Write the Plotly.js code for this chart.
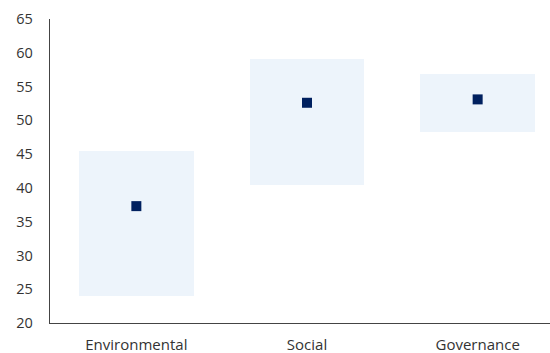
<!DOCTYPE html>
<html>
<head>
<meta charset="utf-8">
<script src="https://cdn.plot.ly/plotly-3.0.1.min.js"></script>
<style>html,body{margin:0;padding:0;background:#fff;}#chart{width:550px;height:353px;}</style>
</head>
<body>
<div id="chart"></div>
<script>
const categories = ["Environmental", "Social", "Governance"];
const rangeLow = [24.0, 40.4, 48.2];
const rangeHigh = [45.4, 59.1, 56.9];
const pointValues = [37.3, 52.6, 53.1];
const yTicks = [20, 25, 30, 35, 40, 45, 50, 55, 60, 65];

const xIdx = categories.map((c, i) => i);

const barTrace = {
  type: "bar",
  x: xIdx,
  base: rangeLow,
  y: rangeHigh.map((h, i) => h - rangeLow[i]),
  width: 0.67,
  marker: {color: "#EDF4FB", line: {width: 0}},
  hoverinfo: "skip",
  showlegend: false
};

const pointTrace = {
  type: "scatter",
  mode: "markers",
  x: xIdx,
  y: pointValues,
  marker: {symbol: "square", size: 10, color: "#00205F"},
  showlegend: false
};

const layout = {
  width: 550,
  height: 353,
  margin: {l: 50, r: 0, t: 19, b: 30, pad: 0},
  paper_bgcolor: "#fff",
  plot_bgcolor: "#fff",
  font: {family: "Open Sans, Noto Sans, sans-serif", size: 14.5, color: "#333"},
  xaxis: {
    range: [-0.506, 2.424],
    tickvals: xIdx,
    ticktext: categories,
    showgrid: false,
    zeroline: false,
    showline: true,
    linecolor: "#444",
    linewidth: 1.3,
    ticks: "",
    ticklabelstandoff: 8,
    tickfont: {size: 15, color: "#333"},
    fixedrange: true
  },
  yaxis: {
    range: [20, 65],
    tickvals: yTicks,
    ticktext: yTicks.map(String),
    showgrid: false,
    zeroline: false,
    showline: true,
    linecolor: "#444",
    linewidth: 1.3,
    ticks: "",
    ticklabelstandoff: 13,
    tickfont: {size: 14.5, color: "#333"},
    fixedrange: true
  },
  bargap: 0
};

Plotly.newPlot("chart", [barTrace, pointTrace], layout, {displayModeBar: false, staticPlot: true});
</script>
</body>
</html>
